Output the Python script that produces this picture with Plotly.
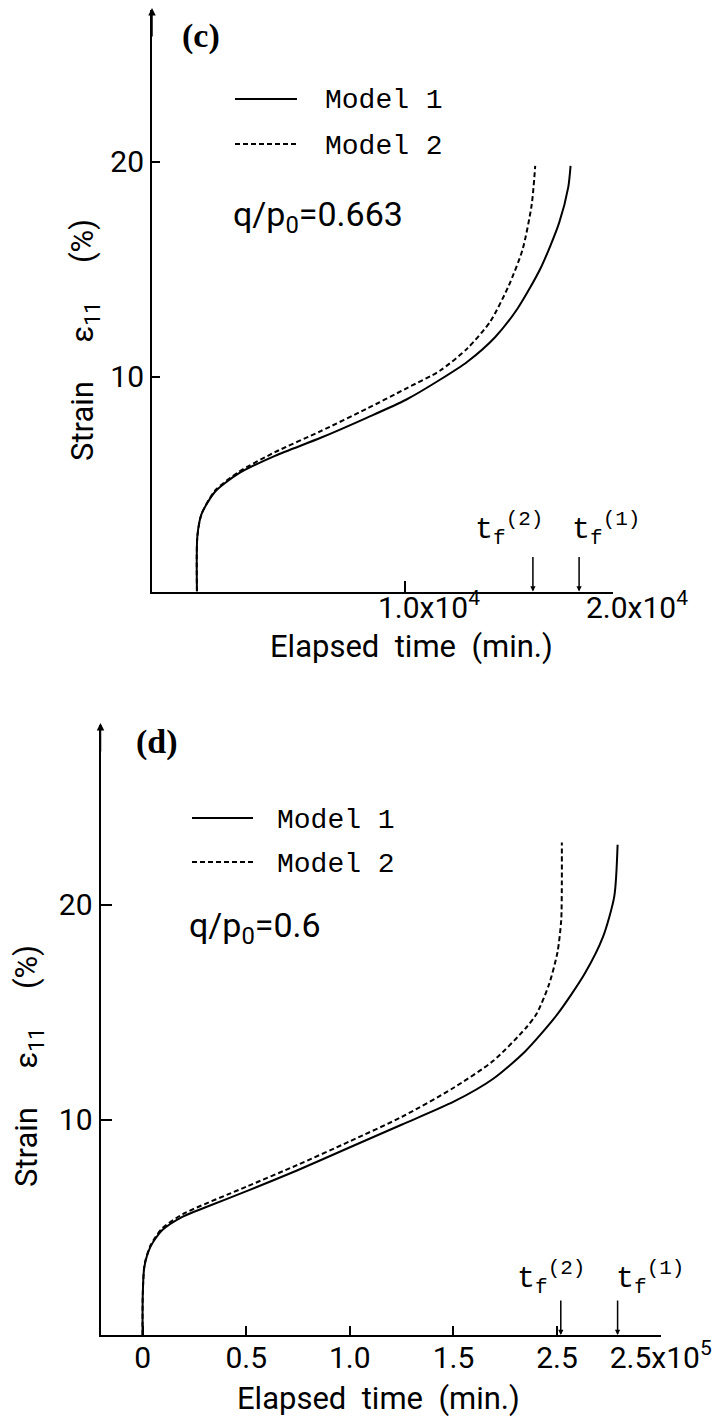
import plotly.graph_objects as go

# ---------------- data ----------------
# Panel (c): q/p0 = 0.663, time in minutes
c_m1_t = [0, 20, 220, 880, 1990, 3750, 5950, 8160, 10050, 11680, 13000, 14330, 15430, 16530, 17410, 17850, 17960]
c_m1_s = [0, 2.56, 3.6, 4.65, 5.48, 6.31, 7.15, 8.08, 8.92, 9.85, 10.69, 11.83, 13.19, 15.06, 17.15, 18.81, 19.8]
c_m2_t = [0, 20, 220, 880, 1990, 3750, 5950, 8160, 10050, 11680, 13000, 14100, 14990, 15650, 16090, 16260]
c_m2_s = [0, 2.56, 3.6, 4.7, 5.55, 6.48, 7.46, 8.5, 9.44, 10.27, 11.31, 12.56, 14.23, 15.9, 17.98, 19.8]
c_tf = {"(2)": 16150, "(1)": 18370}

# Panel (d): q/p0 = 0.6
d_m1_t = [0, 100, 850, 3900, 9400, 19400, 30400, 50200, 74500, 99800, 125200, 150100, 169200, 184700, 200000, 213300, 222100, 227600, 229200]
d_m1_s = [0, 1.88, 3.16, 4.12, 4.87, 5.51, 5.94, 6.69, 7.65, 8.72, 9.79, 10.85, 11.92, 13.2, 14.9, 16.8, 18.5, 20.4, 22.8]
d_m2_t = [0, 100, 1000, 4000, 9400, 19400, 50200, 74500, 99800, 125200, 150100, 169200, 184700, 190200, 196100, 200200, 202000, 202300, 202300]
d_m2_s = [0, 1.9, 3.3, 4.2, 4.95, 5.62, 6.9, 7.9, 9.0, 10.15, 11.5, 12.75, 14.25, 14.95, 16.3, 17.8, 19.3, 21.1, 22.9]
d_tf = {"(2)": 201800, "(1)": 229200}

c_xtickvals = [10000, 20000]
c_xticktext = ["1.0x10<sup>4</sup>", "2.0x10<sup>4</sup>"]
d_xtickvals = [0, 50000, 100000, 150000, 200000, 250000]
d_xticktext = ["0", "0.5", "1.0", "1.5", "2.5", "2.5x10<sup>5</sup>"]
ytickvals = [10, 20]

W, H = 718, 1417
def px(x): return x / W
def py(y): return 1 - y / H

SANS = "Roboto"
MONO = "Liberation Mono"
SERIF = "Liberation Serif"

fig = go.Figure()
solid = dict(color="black", width=2, shape="spline", smoothing=0.7)
dashed = dict(color="black", width=2, dash="5px,3px", shape="spline", smoothing=0.7)

fig.add_trace(go.Scatter(x=c_m1_t, y=c_m1_s, mode="lines", line=solid, name="Model 1", xaxis="x", yaxis="y"))
fig.add_trace(go.Scatter(x=c_m2_t, y=c_m2_s, mode="lines", line=dashed, name="Model 2", xaxis="x", yaxis="y"))
fig.add_trace(go.Scatter(x=d_m1_t, y=d_m1_s, mode="lines", line=solid, name="Model 1", xaxis="x2", yaxis="y2"))
fig.add_trace(go.Scatter(x=d_m2_t, y=d_m2_s, mode="lines", line=dashed, name="Model 2", xaxis="x2", yaxis="y2"))

axis_common = dict(showline=True, linecolor="black", linewidth=2, showgrid=False, zeroline=False,
                   automargin=False,
                   ticks="inside", tickcolor="black", tickwidth=1.5,
                   tickfont=dict(family=SANS, size=30, color="black"))

fig.update_layout(
    width=W, height=H, margin=dict(l=0, r=0, t=0, b=0, autoexpand=False),
    paper_bgcolor="white", plot_bgcolor="white", showlegend=False,
    xaxis=dict(domain=[px(152), px(613)], range=[-2160, 20000], anchor="y",
               tickvals=c_xtickvals, ticktext=c_xticktext, ticklen=11, ticklabelshift=24,
               ticklabelstandoff=-12, **axis_common),
    yaxis=dict(domain=[py(591.5), py(10)], range=[0, 27.05], anchor="x",
               tickvals=ytickvals, ticklen=8, **axis_common),
    xaxis2=dict(domain=[px(100.5), px(660.7)], range=[-20300, 250000], anchor="y2",
                tickvals=d_xtickvals, ticktext=d_xticktext, ticklen=9, ticklabelstandoff=-5, **axis_common),
    yaxis2=dict(domain=[py(1335), py(725)], range=[0, 28.37], anchor="x2",
                tickvals=ytickvals, ticklen=11, **axis_common),
)

ann = []
shapes = []
NB = "\u00a0"

def panel(label, lab_xy, leg_x0, leg_x1, leg_y1, leg_y2, txt_x, q_text, q_xy,
          xt_xy, yt_xy, xa, ya, tf, tf_shifts, tf_yshift, top_xy):
    ann.append(dict(text="<b>%s</b>" % label, x=px(lab_xy[0]), y=py(lab_xy[1]), xref="paper", yref="paper",
                    xanchor="center", yanchor="middle",
                    showarrow=False, font=dict(family=SERIF, size=34, color="black")))
    # legend
    shapes.append(dict(type="line", xref="paper", yref="paper", x0=px(leg_x0), x1=px(leg_x1),
                       y0=py(leg_y1), y1=py(leg_y1), line=dict(color="black", width=2)))
    shapes.append(dict(type="line", xref="paper", yref="paper", x0=px(leg_x0), x1=px(leg_x1),
                       y0=py(leg_y2), y1=py(leg_y2), line=dict(color="black", width=2, dash="5px,3px")))
    for name, yy in (("Model 1", leg_y1), ("Model 2", leg_y2)):
        ann.append(dict(text=name, x=px(txt_x), y=py(yy + 2), xref="paper", yref="paper", xanchor="left",
                        yanchor="middle", showarrow=False, font=dict(family=MONO, size=28, color="black")))
    ann.append(dict(text=q_text, x=px(q_xy[0]), y=py(q_xy[1]), xref="paper", yref="paper", xanchor="left",
                    yanchor="middle", showarrow=False, font=dict(family=SANS, size=34, color="black")))
    ann.append(dict(text="Elapsed" + NB + " time" + NB + " (min.)", x=px(xt_xy[0]), y=py(xt_xy[1]),
                    xref="paper", yref="paper", xanchor="center", yanchor="middle",
                    showarrow=False, font=dict(family=SANS, size=31, color="black")))
    ann.append(dict(text="Strain" + NB * 5 + "ε<sub>11</sub>" + NB * 5 + "(%)", x=px(yt_xy[0]), y=py(yt_xy[1]),
                    xref="paper", yref="paper", textangle=-90, xanchor="center", yanchor="middle",
                    showarrow=False, font=dict(family=SANS, size=31, color="black")))
    # arrow on top of y axis
    ann.append(dict(text="", x=px(top_xy[0]), y=py(top_xy[1]), xref="paper", yref="paper", showarrow=True,
                    ax=0, ay=30, arrowhead=2, arrowsize=1, arrowwidth=1.5, arrowcolor="black"))
    for key, t in tf.items():
        ann.append(dict(text="", x=t, y=0, xref=xa, yref=ya, showarrow=True, ax=0, ay=-36,
                        arrowhead=2, arrowsize=0.7, arrowwidth=1.5, arrowcolor="black"))
        ann.append(dict(text="t<sub>f</sub><sup>%s</sup>" % key, x=t, y=0, xref=xa, yref=ya, showarrow=False,
                        xanchor="left", yanchor="bottom", xshift=tf_shifts[key], yshift=tf_yshift,
                        font=dict(family=MONO, size=30, color="black")))

panel("(c)", (201, 36), 235, 297, 99, 144, 323, "q/p<sub>0</sub>=0.663", (231, 216),
      (411, 646), (84, 340), "x", "y", c_tf, {"(2)": -60, "(1)": -9}, 40, (152, 8))
panel("(d)", (157, 742), 192, 253, 818, 862, 275, "q/p<sub>0</sub>=0.6", (187, 927),
      (378, 1398), (28, 1066), "x2", "y2", d_tf, {"(2)": -46, "(1)": -4}, 34, (100.5, 723))

fig.update_layout(annotations=ann, shapes=shapes)
fig.write_html("out.html")
